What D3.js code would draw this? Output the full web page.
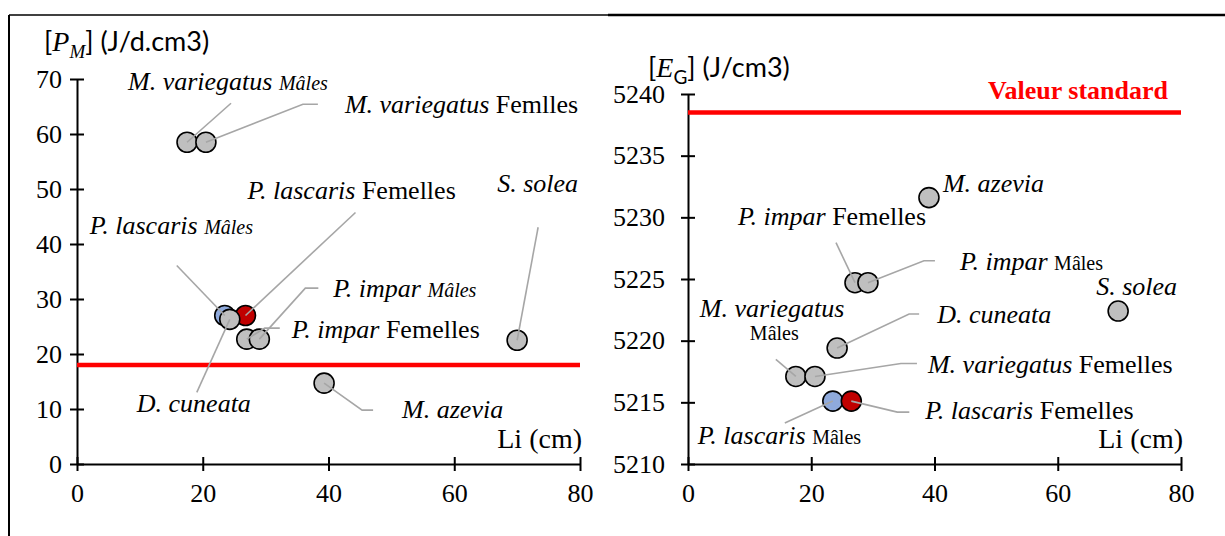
<!DOCTYPE html>
<html>
<head>
<meta charset="utf-8">
<script src="https://cdn.jsdelivr.net/npm/d3@7"></script>
<style>
  body { margin: 0; background: #fff; }
  svg { display: block; }
</style>
</head>
<body>
<div id="chart"></div>
<script>
// axes ticks
var liTicks = [0, 20, 40, 60, 80];
var pmTicks = [0, 10, 20, 30, 40, 50, 60, 70];
var egTicks = [5210, 5215, 5220, 5225, 5230, 5235, 5240];

// left panel: [P_M]
var pmSpecies = ["M. variegatus", "M. variegatus", "P. lascaris", "P. lascaris", "D. cuneata", "P. impar", "P. impar", "S. solea", "M. azevia"];
var pmSex = ["Mâles", "Femlles", "Mâles", "Femelles", "", "Femelles", "Mâles", "", ""];
var pmLi = [17.5, 20.5, 23.5, 26.8, 24.3, 27.0, 29.0, 70.0, 39.3];
var pmValue = [58.5, 58.5, 27.0, 27.0, 26.3, 22.7, 22.7, 22.5, 14.7];
var pmStandard = 18;

// right panel: [E_G]
var egSpecies = ["M. azevia", "P. impar", "P. impar", "S. solea", "D. cuneata", "M. variegatus", "M. variegatus", "P. lascaris", "P. lascaris"];
var egSex = ["", "Femelles", "Mâles", "", "", "Mâles", "Femelles", "Mâles", "Femelles"];
var egLi = [39.1, 27.1, 29.2, 69.8, 24.2, 17.5, 20.6, 23.5, 26.5];
var egValue = [5231.6, 5224.7, 5224.7, 5222.4, 5219.4, 5217.1, 5217.1, 5215.1, 5215.1];
var egStandard = 5238.5;

// label placement (pixel offsets from the point), same order as the data
var pmLayout = [
    { tx: -59, ty: -52, leader: [[44, -39], [0, 0]] },
    { tx: 139, ty: -29, leader: [[112, -38], [97, -38], [0, 0]] },
    { tx: -135, ty: -82, leader: [[-48, -50], [0, 0]] },
    { tx: 2, ty: -117, leader: [[110, -103], [0, 0]] },
    { tx: -93, ty: 93, leader: [[-33, 73], [0, 0]] },
    { tx: 45, ty: -1, leader: [[33, -11], [18, -11], [0, 0]] },
    { tx: 74, ty: -42, leader: [[59, -51], [46, -51], [0, 0]] },
    { tx: -20, ty: -148, leader: [[21, -113], [0, 0]] },
    { tx: 78, ty: 35, leader: [[49, 27], [38, 27], [0, 0]] }
];
var egLayout = [
    { tx: 14, ty: -6, leader: null },
    { tx: -117, ty: -58, leader: [[-19, -40], [0, 0]] },
    { tx: 92, ty: -13, leader: [[67, -22], [56, -22], [0, 0]] },
    { tx: -22, ty: -16, leader: null },
    { tx: 100, ty: -25, leader: [[82, -34], [72, -34], [0, 0]] },
    { tx: -96, ty: -59, leader: [[-20, -17], [0, 0]], sexBreak: [50, 23] },
    { tx: 113, ty: -3, leader: [[102, -13], [86, -13], [0, 0]] },
    { tx: -135, ty: 43, leader: [[-48, 22], [0, 0]] },
    { tx: 74, ty: 18, leader: [[58, 11], [46, 11], [0, 0]] }
];

var serif = "'Liberation Serif', 'Times New Roman', serif";
var sans = "Lato, 'Open Sans', sans-serif";

var width = 1225, height = 536;

var svg = d3.select("#chart").append("svg")
    .attr("width", width)
    .attr("height", height);

// frame lines
svg.append("line").attr("x1", 9).attr("x2", 9).attr("y1", 15).attr("y2", height)
    .attr("stroke", "#000").attr("stroke-width", 2);
svg.append("line").attr("x1", 9).attr("x2", 608).attr("y1", 15).attr("y2", 15)
    .attr("stroke", "#000").attr("stroke-width", 1.5);
svg.append("line").attr("x1", 608).attr("x2", width).attr("y1", 15).attr("y2", 15)
    .attr("stroke", "#000").attr("stroke-width", 2.5);

function pointColor(species, sex)
{
    if (species === "P. lascaris" && sex === "Mâles") return "#8faadc";
    if (species === "P. lascaris" && sex === "Femelles") return "#c00000";
    return "#bfbfbf";
}

function drawPanel(p)
{
    var x = d3.scaleLinear().domain([0, 80]).range(p.xRange);
    var y = d3.scaleLinear().domain(p.yDomain).range(p.yRange);
    var g = svg.append("g");

    // x axis with crossing ticks
    var xa = g.append("g")
        .attr("transform", "translate(0," + p.yRange[0] + ")")
        .call(d3.axisBottom(x).tickValues(liTicks).tickSize(7).tickSizeOuter(0).tickPadding(13));
    xa.selectAll(".tick line").attr("y1", -7);

    // y axis
    var ya = g.append("g")
        .attr("transform", "translate(" + p.xRange[0] + ",0)")
        .call(d3.axisLeft(y).tickValues(p.yTicks).tickSize(7).tickSizeOuter(0)
            .tickPadding(p.yPad).tickFormat(d3.format("d")));
    ya.selectAll(".tick line").attr("x1", 7);

    [xa, ya].forEach(function(a) {
        a.select(".domain").attr("stroke-width", 2);
        a.selectAll(".tick line").attr("stroke-width", 2);
        a.selectAll("text").attr("font-family", serif).attr("font-size", 26).attr("fill", "#000");
    });

    // standard value line
    g.append("line")
        .attr("x1", x(0)).attr("x2", x(80))
        .attr("y1", y(p.standard)).attr("y2", y(p.standard))
        .attr("stroke", "#ff0000").attr("stroke-width", 4.5);

    var idx = d3.range(p.li.length);

    // points
    g.selectAll(".dot")
        .data(idx)
        .enter().append("circle")
        .attr("cx", function(i) { return x(p.li[i]); })
        .attr("cy", function(i) { return y(p.value[i]); })
        .attr("r", 10)
        .attr("fill", function(i) { return pointColor(p.species[i], p.sex[i]); })
        .attr("stroke", "#000")
        .attr("stroke-width", 1.6);

    // leader lines
    var line = d3.line();
    idx.forEach(function(i) {
        var L = p.layout[i];
        if (!L.leader) return;
        var cx = x(p.li[i]), cy = y(p.value[i]);
        g.append("path")
            .attr("d", line(L.leader.map(function(q) { return [cx + q[0], cy + q[1]]; })))
            .attr("fill", "none")
            .attr("stroke", "#a6a6a6")
            .attr("stroke-width", 1.6);
    });

    // labels
    idx.forEach(function(i) {
        var L = p.layout[i];
        var cx = x(p.li[i]), cy = y(p.value[i]);
        var t = g.append("text")
            .attr("x", cx + L.tx)
            .attr("y", cy + L.ty)
            .attr("font-family", serif)
            .attr("font-size", 26)
            .attr("fill", "#000");
        t.append("tspan").attr("font-style", "italic").text(p.species[i]);
        var sex = p.sex[i];
        if (!sex) return;
        var small = sex === "Mâles";
        var target = t;
        if (L.sexBreak)
        {
            target = g.append("text")
                .attr("x", cx + L.tx + L.sexBreak[0])
                .attr("y", cy + L.ty + L.sexBreak[1])
                .attr("font-family", serif)
                .attr("fill", "#000");
        }
        else
        {
            t.append("tspan").text(" ");
        }
        target.append("tspan")
            .attr("font-size", small ? 20 : 26)
            .attr("font-style", small && p.malesItalic ? "italic" : "normal")
            .text(sex);
    });

    // x axis title
    g.append("text")
        .attr("x", p.xRange[1] + 2)
        .attr("y", p.yRange[0] - 16)
        .attr("text-anchor", "end")
        .attr("font-family", serif)
        .attr("font-size", 28)
        .text("Li (cm)");

    // y axis title: [X_s] (unit)
    var yt = g.append("text")
        .attr("x", p.titleX)
        .attr("y", p.titleY)
        .attr("font-family", sans)
        .attr("font-size", 27)
        .attr("fill", "#000");
    yt.append("tspan").text("[");
    yt.append("tspan").attr("font-family", serif).attr("font-style", "italic").attr("font-size", 28).text(p.symbol);
    yt.append("tspan").attr("dy", 7).attr("font-size", 19)
        .attr("font-family", p.subItalic ? serif : sans)
        .attr("font-style", p.subItalic ? "italic" : "normal")
        .text(p.sub);
    yt.append("tspan").attr("dy", -7).text("] " + p.unit);

    return { x: x, y: y, g: g };
}

drawPanel({
    xRange: [77, 580], yRange: [464, 79], yDomain: [0, 70], yTicks: pmTicks, yPad: 8,
    species: pmSpecies, sex: pmSex, li: pmLi, value: pmValue, standard: pmStandard,
    layout: pmLayout, malesItalic: true,
    titleX: 44, titleY: 51, symbol: "P", sub: "M", subItalic: true, unit: "(J/d.cm3)"
});

var right = drawPanel({
    xRange: [688, 1181], yRange: [464, 94], yDomain: [5210, 5240], yTicks: egTicks, yPad: 16,
    species: egSpecies, sex: egSex, li: egLi, value: egValue, standard: egStandard,
    layout: egLayout, malesItalic: false,
    titleX: 648, titleY: 77, symbol: "E", sub: "G", subItalic: false, unit: "(J/cm3)"
});

right.g.append("text")
    .attr("x", 1168)
    .attr("y", right.y(egStandard) - 14)
    .attr("text-anchor", "end")
    .attr("font-family", serif)
    .attr("font-weight", "bold")
    .attr("font-size", 26)
    .attr("fill", "#ff0000")
    .text("Valeur standard");
</script>
</body>
</html>
